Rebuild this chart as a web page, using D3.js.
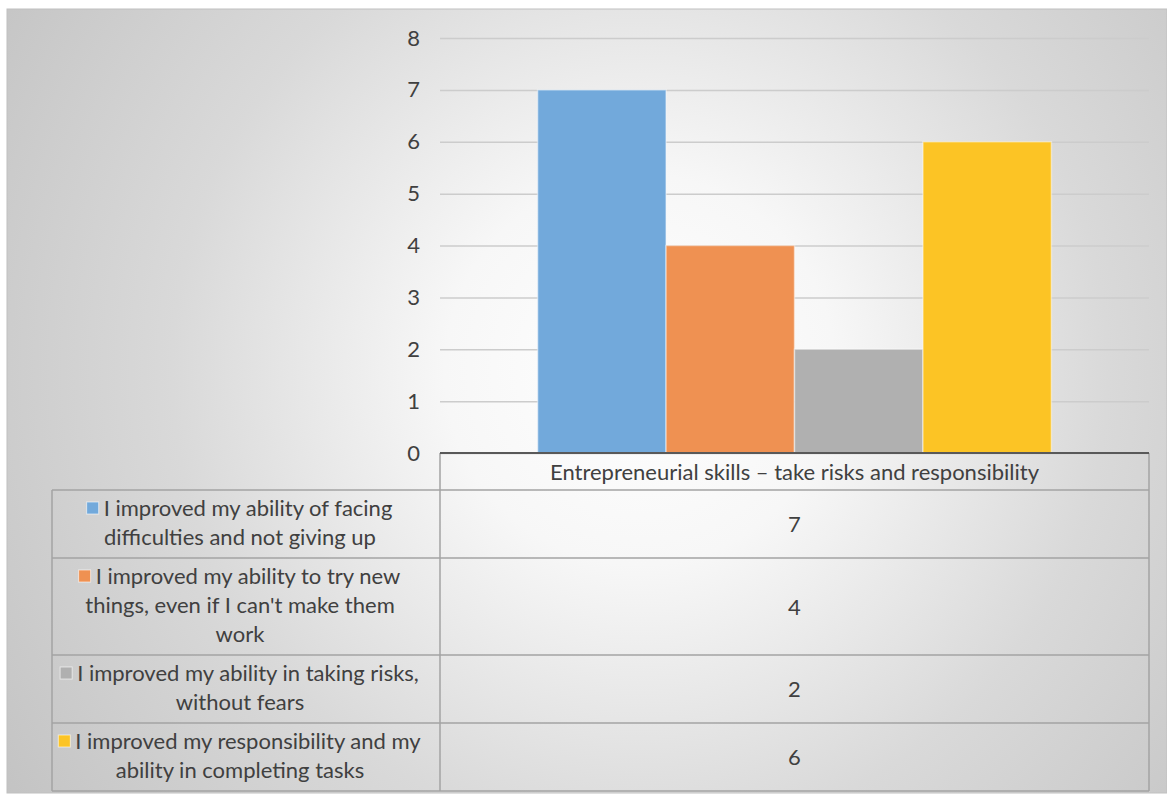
<!DOCTYPE html>
<html lang="en">
<head>
  <meta charset="UTF-8">
  <title>take-risks-chart</title>
  <script src="https://cdn.jsdelivr.net/npm/d3@7"></script>
  <style>
    body { margin: 0; background: #fff; }
    text { font-family: Lato, "Open Sans", sans-serif; fill: #404040; }
  </style>
</head>
<body>
<script>
// data
let categories = ['Entrepreneurial skills \u2013 take risks and responsibility'];
let seriesNames = [
  'I improved my ability of facing\ndifficulties and not giving up',
  'I improved my ability to try new\nthings, even if I can\'t make them\nwork',
  'I improved my ability in taking risks,\nwithout fears',
  'I improved my responsibility and my\nability in completing tasks'
];
let seriesValues = [7, 4, 2, 6];
let seriesColors = ['#72a9db', '#ef9152', '#b0b0b0', '#fcc425'];
let yTicks = [0, 1, 2, 3, 4, 5, 6, 7, 8];

let width = 1167;
let height = 795;
let plot = {left: 440, right: 1149, top: 38, bottom: 453};
let tableLeft = 52;
let lineH = 29;
let fontSize = 22;

let svg = d3.select('body').append('svg')
  .attr('width', width)
  .attr('height', height);

let grad = svg.append('defs').append('radialGradient')
  .attr('id', 'bg')
  .attr('gradientUnits', 'userSpaceOnUse')
  .attr('cx', 640).attr('cy', 370).attr('r', 780);
[[0, '#ffffff'], [0.25, '#f7f7f7'], [0.6, '#d9d9d9'], [1, '#c2c2c2']].forEach(function (s) {
  grad.append('stop').attr('offset', s[0]).attr('stop-color', s[1]);
});

svg.append('rect')
  .attr('x', 7).attr('y', 9)
  .attr('width', width - 7).attr('height', height - 11)
  .attr('fill', 'url(#bg)')
  .attr('stroke', '#c0c0c0');

let y = d3.scaleLinear().domain([0, 8]).range([plot.bottom, plot.top]);

let x0 = d3.scaleBand()
  .domain(categories)
  .range([plot.left, plot.right])
  .paddingInner(0)
  .paddingOuter(0.19);

let x1 = d3.scaleBand()
  .domain(d3.range(seriesValues.length))
  .range([0, x0.bandwidth()]);

// gridlines + labels
let yAxis = d3.axisLeft(y)
  .tickValues(yTicks)
  .tickSize(-(plot.right - plot.left))
  .tickPadding(20)
  .tickFormat(d3.format('d'));

let axisG = svg.append('g')
  .attr('transform', 'translate(' + plot.left + ',0)')
  .call(yAxis);
axisG.select('.domain').remove();
axisG.selectAll('.tick line').attr('stroke', '#cccccc').attr('stroke-width', 1.5);
axisG.selectAll('.tick text')
  .attr('font-size', fontSize)
  .attr('fill', '#404040')
  .style('font-family', 'Lato, sans-serif');

// bars
let barG = svg.append('g')
  .attr('transform', 'translate(' + x0(categories[0]) + ',0)');
barG.selectAll('rect')
  .data(seriesValues)
  .enter()
  .append('rect')
  .attr('x', function (d, i) { return x1(i); })
  .attr('y', function (d) { return y(d); })
  .attr('width', x1.bandwidth())
  .attr('height', function (d) { return y(0) - y(d); })
  .attr('fill', function (d, i) { return seriesColors[i]; })
  .attr('stroke', 'rgba(255,255,255,0.45)')
  .attr('stroke-width', 1.5);

// data table
let rows = seriesNames.map(function (n) { return n.split('\n'); });
let headerBottom = 490;
let rowTops = [];
let acc = headerBottom;
rows.forEach(function (r) {
  rowTops.push(acc);
  acc += 10 + r.length * lineH;
});
let tableBottom = acc;

let tbl = svg.append('g').attr('class', 'table');
let border = '#a3a3a3';

tbl.append('line')
  .attr('x1', plot.left).attr('x2', plot.left)
  .attr('y1', plot.bottom).attr('y2', tableBottom)
  .attr('stroke', border).attr('stroke-width', 1.5);
tbl.append('line')
  .attr('x1', plot.right).attr('x2', plot.right)
  .attr('y1', plot.bottom).attr('y2', tableBottom)
  .attr('stroke', border).attr('stroke-width', 1.5);
tbl.append('line')
  .attr('x1', tableLeft).attr('x2', tableLeft)
  .attr('y1', headerBottom).attr('y2', tableBottom)
  .attr('stroke', border).attr('stroke-width', 1.5);

rowTops.concat([tableBottom]).forEach(function (ty) {
  tbl.append('line')
    .attr('x1', tableLeft).attr('x2', plot.right)
    .attr('y1', ty).attr('y2', ty)
    .attr('stroke', border).attr('stroke-width', 1.5);
});

// axis baseline
svg.append('line')
  .attr('x1', plot.left).attr('x2', plot.right)
  .attr('y1', y(0)).attr('y2', y(0))
  .attr('stroke', '#595959').attr('stroke-width', 2);

tbl.append('text')
  .attr('x', (plot.left + plot.right) / 2)
  .attr('y', (plot.bottom + headerBottom) / 2 + 8)
  .attr('text-anchor', 'middle')
  .attr('font-size', fontSize)
  .text(categories[0]);

let cx = 240;
rows.forEach(function (lines, i) {
  let top = rowTops[i];
  let h = 10 + lines.length * lineH;
  lines.forEach(function (ln, j) {
    let t = tbl.append('text')
      .attr('x', j === 0 ? cx + 8 : cx)
      .attr('y', top + 26 + j * lineH)
      .attr('text-anchor', 'middle')
      .attr('font-size', fontSize)
      .text(ln);
    if (j === 0) {
      let bb = t.node().getBBox();
      tbl.append('rect')
        .attr('x', bb.x - 17).attr('y', top + 12)
        .attr('width', 12).attr('height', 12)
        .attr('fill', seriesColors[i])
        .attr('stroke', 'rgba(255,255,255,0.6)');
    }
  });
  tbl.append('text')
    .attr('x', (plot.left + plot.right) / 2)
    .attr('y', top + h / 2 + 8)
    .attr('text-anchor', 'middle')
    .attr('font-size', fontSize)
    .text(seriesValues[i]);
});
</script>
</body>
</html>
